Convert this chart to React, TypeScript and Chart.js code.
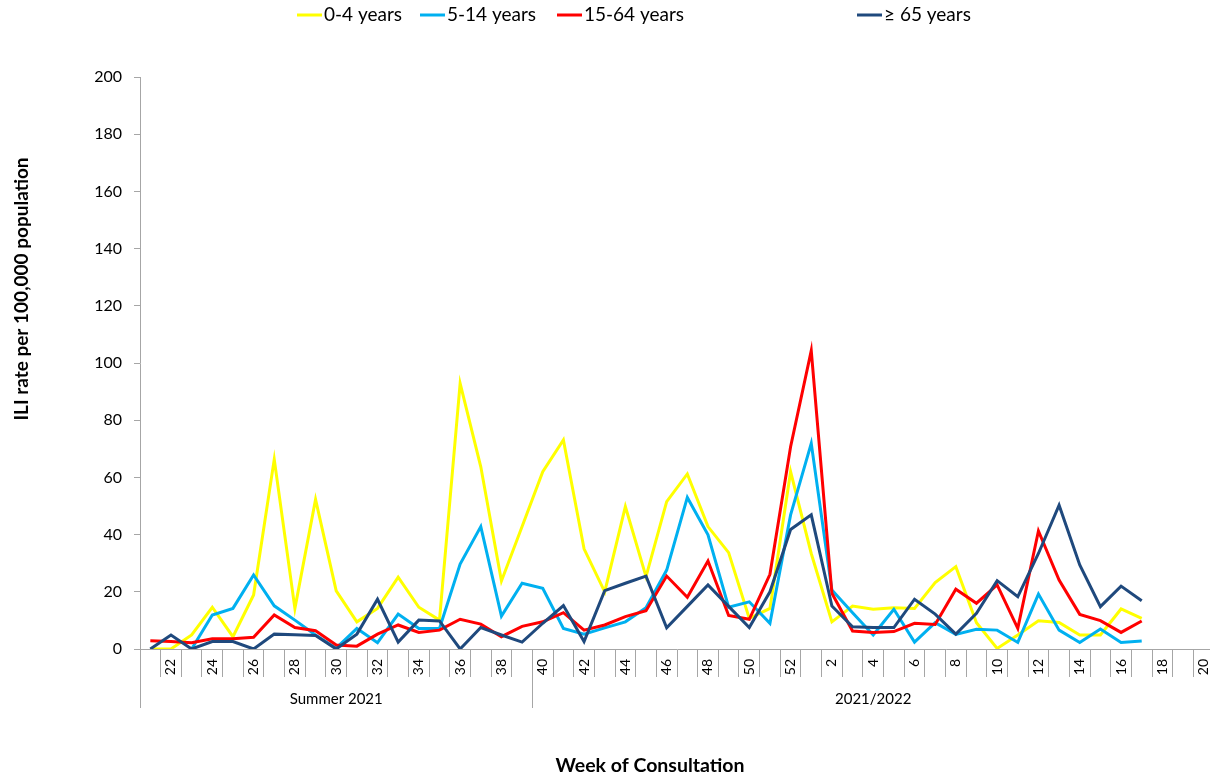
import React, { useEffect, useRef } from 'react';
import { Chart, registerables } from 'chart.js';

Chart.register(...registerables);

const weeks: string[] = [
  '21', '22', '23', '24', '25', '26', '27', '28', '29', '30', '31', '32', '33', '34', '35', '36', '37', '38', '39',
  '40', '41', '42', '43', '44', '45', '46', '47', '48', '49', '50', '51', '52',
  '1', '2', '3', '4', '5', '6', '7', '8', '9', '10', '11', '12', '13', '14', '15', '16', '17', '18', '19', '20',
];

const seasonLabels = ['Summer 2021', '2021/2022'];
const seasonStartWeek = ['21', '40'];

const age0to4: (number | null)[] = [
  0, 0, 4.9, 14.6, 4.3, 18.9, 66.3, 14.2, 52.3, 20.3, 9.5, 14.2, 25.1, 14.6, 10.1, 92.9, 63.7, 23.8, 42.8,
  62, 73.1, 35, 20, 49.8, 25.3, 51.5, 61.2, 42.8, 33.7, 10.7, 14.2, 62,
  33.4, 9.5, 15, 13.9, 14.4, 14.2, 23.2, 28.8, 9.2, 0.2, 4.9, 9.9, 9.3, 4.9, 4.9, 14, 10.7, null, null, null,
];

const age5to14: (number | null)[] = [
  null, null, 0, 11.9, 14.2, 25.9, 15.1, 10.1, 4.9, 0.3, 7.2, 2.2, 12.2, 7.2, 7.2, 29.7, 42.8, 11.5, 23,
  21.2, 7.2, 5.2, 7.4, 9.5, 14.4, 27.6, 53, 39.9, 14.6, 16.5, 9, 46.9,
  71.9, 20.6, 12.7, 4.9, 13.9, 2.4, 9.2, 5.1, 6.9, 6.6, 2.3, 19.2, 6.6, 2.3, 7, 2.3, 2.8, null, null, null,
];

const age15to64: (number | null)[] = [
  2.9, 2.6, 2.2, 3.6, 3.6, 4.1, 11.9, 7.5, 6.4, 1.4, 1, 5.2, 8.4, 5.8, 6.6, 10.4, 8.7, 4.3, 7.9,
  9.5, 12.7, 6.6, 8.4, 11.3, 13.4, 25.5, 18.1, 30.8, 11.7, 10.4, 26.1, 70.7,
  104.3, 19.5, 6.3, 5.8, 6.1, 9, 8.6, 20.9, 16, 22.4, 7.2, 41.3, 24.1, 12.1, 9.9, 5.8, 9.8, null, null, null,
];

const age65plus: (number | null)[] = [
  0, 4.9, 0, 2.6, 2.6, 0, 5.2, 5, 4.7, 0, 5.2, 17.4, 2.4, 10.1, 9.8, 0, 7.5, 4.9, 2.4,
  9, 15.2, 2.6, 20.4, 23, 25.5, 7.4, 14.9, 22.4, 14.9, 7.5, 20, 41.8,
  46.9, 15, 7.8, 7.5, 7.5, 17.4, 12.2, 5.2, 12.5, 23.9, 18.3, 33.4, 50.3, 29.4, 14.8, 22, 16.9, null, null, null,
];

const seriesLabels = ['0-4 years', '5-14 years', '15-64 years', '\u2265 65 years'];
const seriesColors = ['#FFFF00', '#00B0F0', '#FF0000', '#1F497D'];

const yMin = 0;
const yMax = 200;
const yStep = 20;

const FONT = 'Lato, "Open Sans", "DejaVu Sans", sans-serif';
const AXIS_COLOR = '#A6A6A6';

const legendX = [297, 420, 557, 857];

const overlayPlugin = {
  id: 'overlay',
  afterDraw(chart: any) {
    const ctx: CanvasRenderingContext2D = chart.ctx;
    const { right, bottom } = chart.chartArea;
    const xs = chart.scales.x;
    const step = xs.getPixelForValue(1) - xs.getPixelForValue(0);
    const bottomLine = 708;
    ctx.save();

    ctx.strokeStyle = AXIS_COLOR;
    ctx.lineWidth = 1;
    const bounds: number[] = [];
    seasonStartWeek.forEach((w) => {
      const idx = weeks.indexOf(w);
      bounds.push(xs.getPixelForValue(idx) - step / 2);
    });
    bounds.push(right);
    ctx.beginPath();
    for (let i = 0; i < bounds.length - 1; i++) {
      const bx = Math.round(bounds[i]) + 0.5;
      ctx.moveTo(bx, bottom);
      ctx.lineTo(bx, bottomLine);
    }
    ctx.stroke();

    ctx.fillStyle = '#000';
    ctx.font = `15px ${FONT}`;
    ctx.textAlign = 'center';
    ctx.textBaseline = 'middle';
    seasonLabels.forEach((lab, i) => {
      ctx.fillText(lab, (bounds[i] + bounds[i + 1]) / 2, 699);
    });

    ctx.font = `bold 19.5px ${FONT}`;
    ctx.fillText('Week of Consultation', 650, 766);
    ctx.save();
    ctx.translate(22, 289);
    ctx.rotate(-Math.PI / 2);
    ctx.font = `bold 19px ${FONT}`;
    ctx.fillText('ILI rate per 100,000 population', 0, 0);
    ctx.restore();

    ctx.font = `19px ${FONT}`;
    ctx.textAlign = 'left';
    chart.data.datasets.forEach((ds: any, i: number) => {
      const lx = legendX[i];
      ctx.strokeStyle = ds.borderColor;
      ctx.lineWidth = 3;
      ctx.beginPath();
      ctx.moveTo(lx, 15);
      ctx.lineTo(lx + 25, 15);
      ctx.stroke();
      ctx.fillStyle = '#000';
      ctx.fillText(ds.label, lx + 27, 15);
    });

    ctx.restore();
  },
};

export default function App() {
  const ref = useRef<HTMLCanvasElement | null>(null);

  useEffect(() => {
    if (!ref.current) return;
    const data = [age0to4, age5to14, age15to64, age65plus];
    const chart = new Chart(ref.current, {
      type: 'line',
      data: {
        labels: weeks,
        datasets: data.map((d, i) => ({
          label: seriesLabels[i],
          data: d,
          borderColor: seriesColors[i],
          backgroundColor: seriesColors[i],
          borderWidth: 3,
          pointRadius: 0,
          tension: 0,
          fill: false,
          order: 3 - i,
        })),
      },
      options: {
        responsive: false,
        animation: false,
        layout: { padding: { top: 77, left: 0, right: 16, bottom: 0 } },
        plugins: {
          legend: { display: false },
          tooltip: { enabled: false },
        },
        scales: {
          x: {
            type: 'category',
            offset: true,
            grid: {
              offset: true,
              drawOnChartArea: false,
              drawTicks: true,
              tickLength: 28,
              color: AXIS_COLOR,
            },
            border: { color: AXIS_COLOR },
            ticks: {
              autoSkip: false,
              maxRotation: 90,
              minRotation: 90,
              padding: -18,
              color: '#000',
              font: { family: FONT, size: 14 },
              callback: (_v: any, i: number) => (Number(weeks[i]) % 2 === 0 ? weeks[i] : ''),
            },
            afterFit: (s: any) => {
              s.height = 129;
            },
          },
          y: {
            min: yMin,
            max: yMax,
            grid: {
              drawOnChartArea: false,
              drawTicks: true,
              tickLength: 6,
              color: AXIS_COLOR,
            },
            border: { color: AXIS_COLOR },
            ticks: {
              stepSize: yStep,
              padding: 12,
              color: '#000',
              font: { family: FONT, size: 16 },
            },
            afterFit: (s: any) => {
              s.width = 140;
            },
          },
        },
      },
      plugins: [overlayPlugin],
    });
    return () => chart.destroy();
  }, []);

  return (
    <div style={{ position: 'absolute', left: 0, top: 0, width: 1210, height: 778, overflow: 'hidden', background: '#fff' }}>
      <canvas ref={ref} width={1230} height={778} style={{ display: 'block' }} />
    </div>
  );
}
